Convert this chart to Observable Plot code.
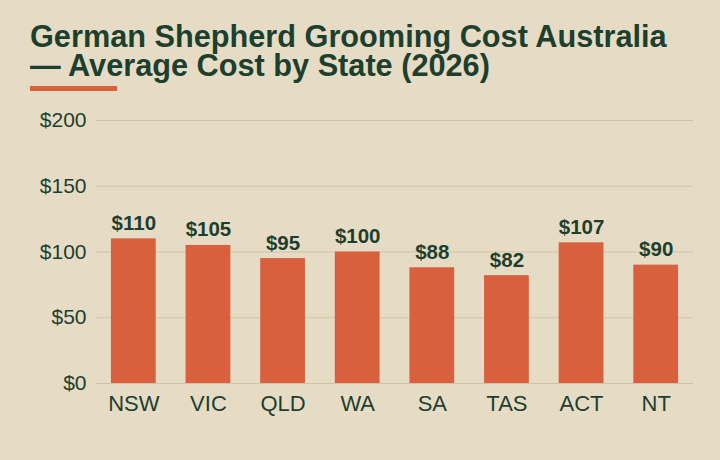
<!DOCTYPE html>
<html>
<head>
<meta charset="utf-8">
<script src="https://cdn.jsdelivr.net/npm/d3@7"></script>
<script src="https://cdn.jsdelivr.net/npm/@observablehq/plot@0.6"></script>
<style>
  html, body { margin: 0; padding: 0; }
  body { width: 720px; height: 460px; background: #e6dcc6; position: relative; overflow: hidden;
         font-family: "Liberation Sans", Arial, sans-serif; }
  .title { position: absolute; left: 30px; margin: 0; font-size: 30.7px; line-height: 29px; height: 29px;
           font-weight: bold; color: #1d3f2d; white-space: nowrap; }
  #t1 { top: 21.5px; }
  #t2 { top: 50.5px; }
  #rule { position: absolute; left: 30px; top: 86px; width: 87px; height: 5px; background: #d9603c; }
  #chart { position: absolute; left: 0; top: 100px; }
</style>
</head>
<body>
<div class="title" id="t1">German Shepherd Grooming Cost Australia</div>
<div class="title" id="t2">— Average Cost by State (2026)</div>
<div id="rule"></div>
<div id="chart"></div>
<script>
const states = ["NSW", "VIC", "QLD", "WA", "SA", "TAS", "ACT", "NT"];
const costs = [110, 105, 95, 100, 88, 82, 107, 90];
const yTicks = [0, 50, 100, 150, 200];

const data = states.map((s, i) => ({state: s, cost: costs[i]}));
const ink = "#1d3f2d";

const plot = Plot.plot({
  width: 720,
  height: 340,
  marginTop: 20,
  marginBottom: 57,
  marginLeft: 96,
  marginRight: 27,
  style: {background: "transparent", fontFamily: "'Liberation Sans', Arial, sans-serif", color: ink},
  x: {domain: states, paddingInner: 0.4, paddingOuter: 0.2, round: false, label: null},
  y: {domain: [0, 200], label: null},
  marks: [
    Plot.gridY(yTicks, {stroke: "#cfc3a6", strokeOpacity: 1, strokeWidth: 1}),
    Plot.axisY(yTicks, {tickSize: 0, tickPadding: 10, tickFormat: d => "$" + d, fontSize: 21, fill: ink, label: null}),
    Plot.axisX({tickSize: 0, tickPadding: 12, fontSize: 22, fill: ink, label: null}),
    Plot.barY(data, {x: "state", y: "cost", fill: "#d9603c"}),
    Plot.text(data, {x: "state", y: "cost", text: d => "$" + d.cost, lineAnchor: "bottom", dy: -9,
                     fontSize: 20.5, fontWeight: "bold", fill: ink})
  ]
});
document.getElementById("chart").appendChild(plot);
</script>
</body>
</html>
